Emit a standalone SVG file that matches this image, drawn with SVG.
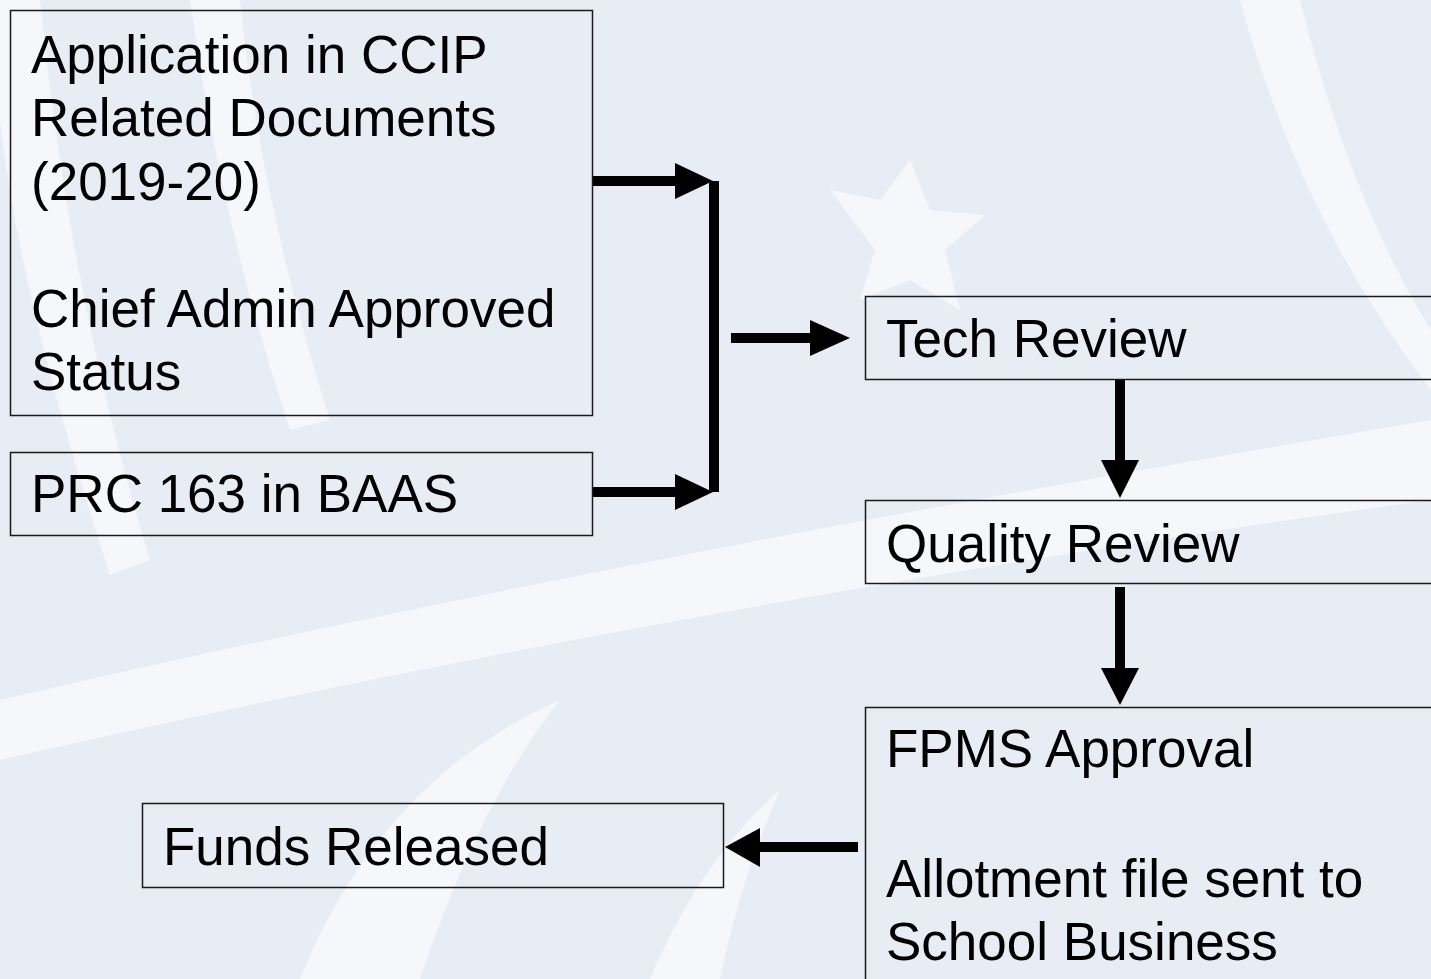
<svg xmlns="http://www.w3.org/2000/svg" width="1431" height="979" viewBox="0 0 1431 979">
<style>
.box{fill:none;stroke:#1a1a1a;stroke-width:1.5}
.t{font-family:"Liberation Sans",Arial,sans-serif;font-size:53px;fill:#000}
.wm{fill:#ffffff;opacity:0.55}
.c{stroke:#000;stroke-width:10;fill:none}
.h{fill:#000}
</style>
<rect width="1431" height="979" fill="#e8edf5"/>
<g id="watermark">
<path class="wm" d="M0,0 L40,0 Q70,300 150,560 L110,575 Q20,300 0,120 Z"/>
<path class="wm" d="M190,0 L240,0 Q260,200 330,420 L290,430 Q220,220 190,0 Z"/>
<path class="wm" d="M0,700 Q600,560 1431,420 L1431,500 Q700,600 0,760 Z"/>
<path class="wm" d="M830,190 L880,200 L910,160 L930,210 L985,215 L945,250 L960,310 L910,280 L860,300 L875,250 Z"/>
<path class="wm" d="M1240,0 L1300,0 Q1350,200 1431,330 L1431,390 Q1300,220 1240,0 Z"/>
<path class="wm" d="M300,979 Q380,780 560,700 Q480,800 420,979 Z"/>
<path class="wm" d="M650,979 Q700,860 780,790 Q740,880 720,979 Z"/>
</g>
<g id="connectors">
<line class="c" x1="592" y1="181" x2="680" y2="181"/>
<polygon class="h" points="675,163 713,181 675,199"/>
<line class="c" x1="592" y1="492" x2="680" y2="492"/>
<polygon class="h" points="675,474 713,492 675,510"/>
<line class="c" x1="714" y1="181" x2="714" y2="492"/>
<line class="c" x1="731" y1="338" x2="815" y2="338"/>
<polygon class="h" points="810,320 850,338 810,356"/>
<line class="c" x1="1120" y1="380" x2="1120" y2="465"/>
<polygon class="h" points="1101,460 1139,460 1120,498"/>
<line class="c" x1="1120" y1="587" x2="1120" y2="673"/>
<polygon class="h" points="1101,668 1139,668 1120,705"/>
<line class="c" x1="858" y1="847" x2="755" y2="847"/>
<polygon class="h" points="760,828 725,847 760,867"/>
</g>
<g id="node-application">
<rect class="box" x="10.5" y="10.5" width="582" height="405"/>
<text class="t" x="31" y="73">Application in CCIP</text>
<text class="t" x="31" y="136">Related Documents</text>
<text class="t" x="31" y="200">(2019-20)</text>
<text class="t" x="31" y="327">Chief Admin Approved</text>
<text class="t" x="31" y="390">Status</text>
</g>
<g id="node-prc">
<rect class="box" x="10.5" y="452.5" width="582" height="83"/>
<text class="t" x="31" y="512">PRC 163 in BAAS</text>
</g>
<g id="node-tech">
<rect class="box" x="865.5" y="296.5" width="570" height="83"/>
<text class="t" x="886" y="357">Tech Review</text>
</g>
<g id="node-quality">
<rect class="box" x="865.5" y="500.5" width="570" height="83"/>
<text class="t" x="886" y="562">Quality Review</text>
</g>
<g id="node-fpms">
<rect class="box" x="865.5" y="707.5" width="570" height="290"/>
<text class="t" x="886" y="767">FPMS Approval</text>
<text class="t" x="886" y="897">Allotment file sent to</text>
<text class="t" x="886" y="960">School Business</text>
</g>
<g id="node-funds">
<rect class="box" x="142.5" y="803.5" width="581" height="84"/>
<text class="t" x="163" y="865">Funds Released</text>
</g>
</svg>
